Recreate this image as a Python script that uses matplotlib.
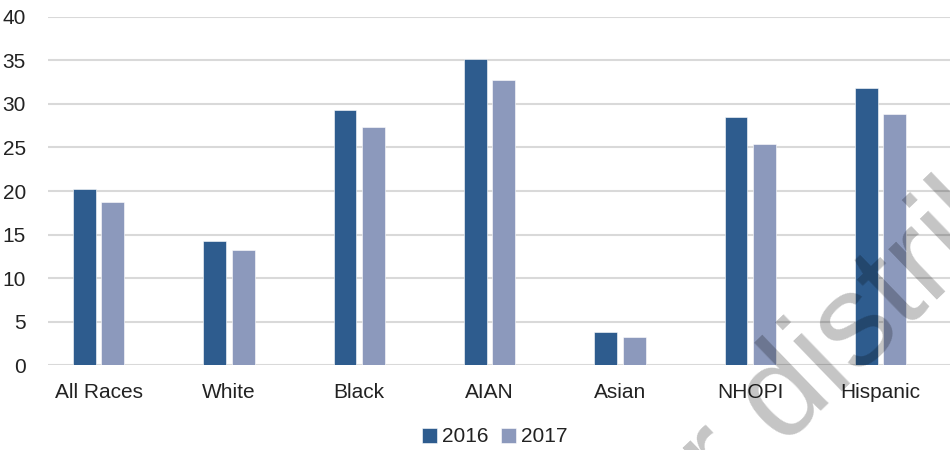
import matplotlib
matplotlib.use("Agg")
import numpy as np
import matplotlib.pyplot as plt

plt.rcParams['font.family'] = ['Liberation Sans', 'DejaVu Sans']

categories = ['All Races', 'White', 'Black', 'AIAN', 'Asian', 'NHOPI', 'Hispanic']
values_2016 = [20.2, 14.3, 29.3, 35.1, 3.8, 28.5, 31.8]
values_2017 = [18.7, 13.2, 27.4, 32.8, 3.2, 25.4, 28.9]
series_labels = ['2016', '2017']
y_ticks = [0, 5, 10, 15, 20, 25, 30, 35, 40]

DARK = '#2E5C8E'
LIGHT = '#8C99BC'
TEXT = '#222222'

fig = plt.figure(figsize=(9.5, 4.5), dpi=100)
ax = fig.add_axes([48 / 950, 1 - 365.3 / 450, 902 / 950, 348.5 / 450])

x = np.arange(len(categories))
w = 0.176
off = 0.109
ax.bar(x - off, values_2016, w, color=DARK, label=series_labels[0], zorder=3,
       edgecolor='white', linewidth=0.4)
ax.bar(x + off, values_2017, w, color=LIGHT, label=series_labels[1], zorder=3,
       edgecolor='white', linewidth=0.4)

ax.set_xlim(-0.3875, 6.533)
ax.set_ylim(0, 40)
ax.set_yticks(y_ticks)
ax.set_xticks(x)
ax.set_xticklabels(categories)
ax.tick_params(axis='both', length=0, labelsize=15, colors=TEXT)
ax.tick_params(axis='y', pad=16)
ax.tick_params(axis='x', pad=13)
ax.yaxis.grid(True, color='#D9D9D9', linewidth=1.5, zorder=0)
ax.set_axisbelow(True)
for s in ax.spines.values():
    s.set_visible(False)

fig.legend(loc='center', bbox_to_anchor=(495 / 950, 1 - 437 / 450), ncol=2,
           frameon=False, fontsize=15, handlelength=0.7, handleheight=0.7,
           handletextpad=0.25, columnspacing=0.6, labelcolor=TEXT)

# faint watermark across the lower right
fig.text(0.764, -0.121, 'r distribution', fontsize=95, rotation=44,
         rotation_mode='anchor', color='black', alpha=0.23,
         ha='left', va='baseline', zorder=10)

fig.savefig('out.png', dpi=100)
